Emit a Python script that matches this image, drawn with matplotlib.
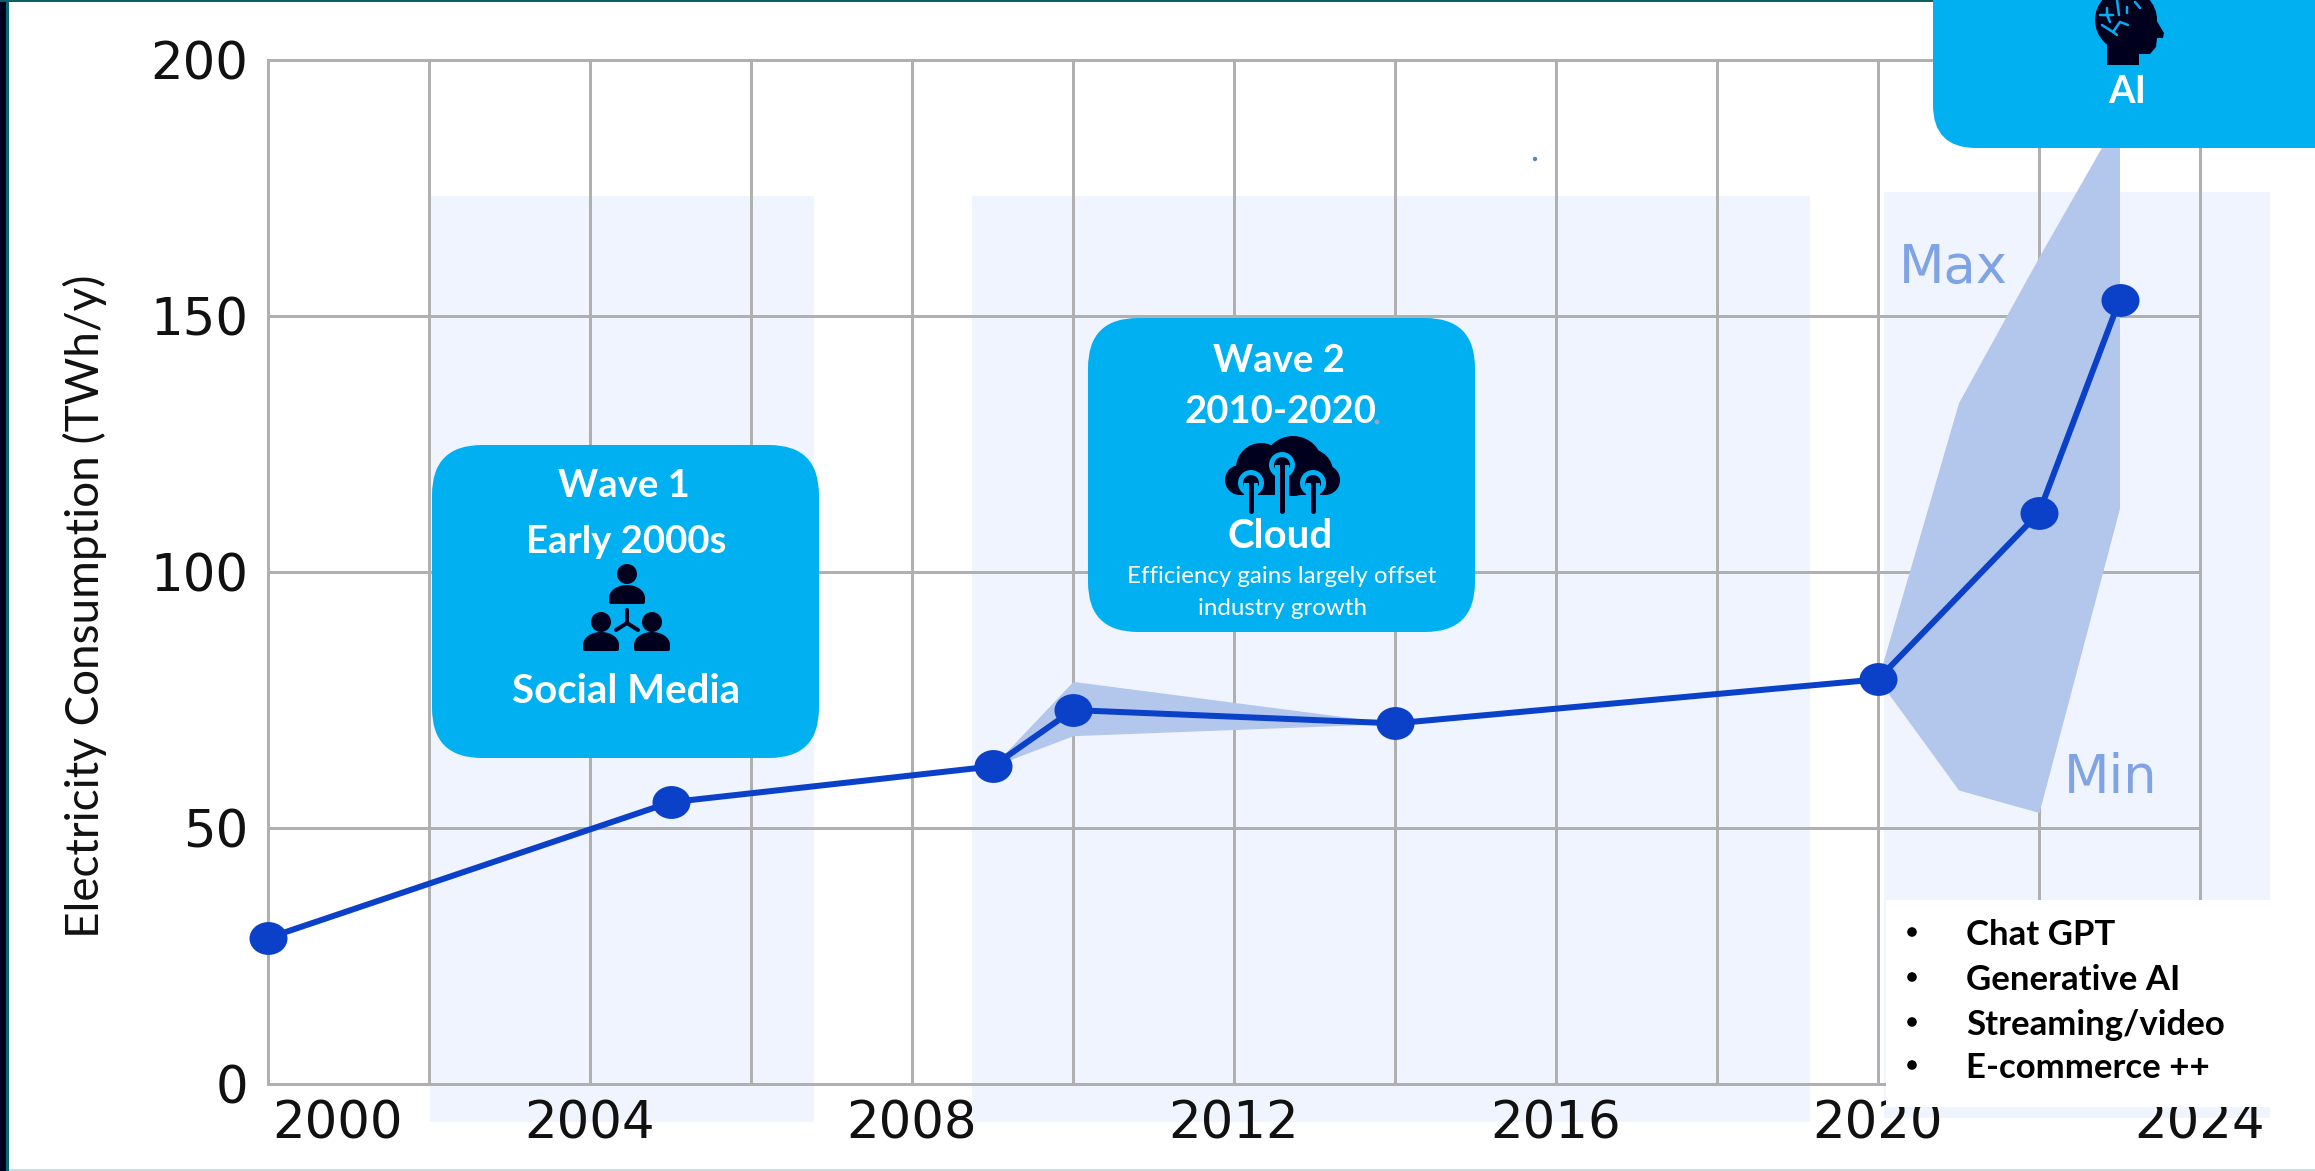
import numpy as np
import matplotlib
matplotlib.use("Agg")
import matplotlib.pyplot as plt
from matplotlib.patches import Circle, FancyBboxPatch, Polygon, Rectangle
from matplotlib.path import Path
from matplotlib.transforms import Affine2D, ScaledTranslation

W, H = 2315, 1171

years = [2000, 2005, 2009, 2010, 2014, 2020, 2022, 2023]
consumption = [28.5, 55, 62, 73, 70.4, 79, 111.5, 153]

cloud_years = [2009, 2010, 2014]
cloud_max = [62, 78.6, 70.4]
cloud_min = [62, 68, 70.4]

ai_years = [2020, 2021, 2022, 2023]
ai_max = [79, 133, 161.5, 189]
ai_min = [79, 57.4, 53, 112.4]

x_major = [2000, 2004, 2008, 2012, 2016, 2020, 2024]
x_minor = [2002, 2006, 2010, 2014, 2018, 2022]
y_ticks = [0, 50, 100, 150, 200]
drivers = ["Chat GPT", "Generative AI", "Streaming/video", "E-commerce ++"]

BLUE = "#00B0F0"
DARK = "#00001E"
LINE = "#0A41C8"
PALE = "#F0F4FE"
BAND = "#B3C6EC"
GRID = "#B0B0B0"
LABEL = "#7FA3E3"
FONT = "Lato"


def px(v):
    return v * 0.72


def overlay(fig, zorder):
    a = fig.add_axes([0, 0, 1, 1], zorder=zorder)
    a.set_xlim(0, W)
    a.set_ylim(H, 0)
    a.axis("off")
    a.patch.set_alpha(0)
    return a


def round_box(a, x0, y0, x1, y1, r):
    a.add_patch(FancyBboxPatch((x0, y0), x1 - x0, y1 - y0,
                               boxstyle=f"round,pad=0,rounding_size={r}",
                               fc=BLUE, ec="none"))


def box_text(a, x, y, s, size=27.5, weight="bold"):
    a.text(x, y, s, ha="center", va="baseline", color="white",
           fontsize=size, fontweight=weight, family=FONT)


def person(a, cx, head_y, base_y):
    a.add_patch(Circle((cx, head_y), 10, fc=DARK, ec="none"))
    t = np.linspace(np.pi, 2 * np.pi, 30)
    xs = cx + 16 * np.cos(t)
    ys = base_y - 6 + 11 * np.sin(t)
    pts = list(zip(xs, ys)) + [(cx + 16, base_y - 2), (cx - 16, base_y - 2)]
    a.add_patch(Polygon(pts, closed=True, fc=DARK, ec=DARK, lw=px(4), joinstyle="round"))


def people_icon(a):
    person(a, 627, 574, 604)
    person(a, 601, 622, 651)
    person(a, 652, 622, 651)
    for end in [(627, 610), (616, 630), (638, 630)]:
        a.plot([627, end[0]], [623, end[1]], color=DARK, lw=px(4), solid_capstyle="round")


def cloud_icon(a):
    for c, r in [((1240, 480), 15), ((1325, 480), 15), ((1261, 468), 25),
                 ((1293, 466), 30), ((1310, 472), 23)]:
        a.add_patch(Circle(c, r, fc=DARK, ec="none"))
    a.add_patch(Rectangle((1240, 468), 85, 27, fc=DARK, ec="none"))
    for cx, cy in [(1251, 483), (1282, 465), (1313, 483)]:
        a.plot([cx, cx], [cy, 496], color=BLUE, lw=px(14), solid_capstyle="butt")
        a.add_patch(Circle((cx, cy), 13, fc=BLUE, ec="none"))
        a.add_patch(Circle((cx, cy), 8, fc=DARK, ec="none"))
        a.plot([cx, cx], [cy, 511], color=DARK, lw=px(5), solid_capstyle="round")


def head_icon(a):
    a.add_patch(Circle((2126, 20), 31, fc=DARK, ec="none"))
    a.add_patch(Polygon([(2107, 40), (2107, 65), (2139, 65), (2139, 54), (2150, 54),
                         (2156, 47), (2157, 38), (2163, 38), (2164, 33), (2155, 18), (2125, 20)],
                        closed=True, fc=DARK, ec="none"))
    circuits = [[(2100, 15), (2113, 15)], [(2107, 8), (2107, 15), (2110, 22)],
                [(2117, 0), (2119, 15)], [(2127, 7), (2127, 13)],
                [(2102, 25), (2113, 32), (2117, 35)], [(2113, 32), (2120, 22), (2128, 25)],
                [(2135, 2), (2140, 8)]]
    for c in circuits:
        xs, ys = zip(*c)
        a.plot(xs, ys, color=BLUE, lw=px(2.5), solid_capstyle="round")


fig = plt.figure(figsize=(W / 100, H / 100), dpi=100, facecolor="white")
bg = overlay(fig, 0)
ax = fig.add_axes([268 / W, 1 - 1084 / H, (2200 - 268) / W, (1084 - 59.5) / H], zorder=1)
fg = overlay(fig, 2)

# wave backgrounds
bg.add_patch(Rectangle((430, 196), 384, 926, fc=PALE, ec="none"))
bg.add_patch(Rectangle((972, 196), 838, 926, fc=PALE, ec="none"))
bg.add_patch(Rectangle((1884, 192), 386, 926, fc=PALE, ec="none"))

# frame
bg.add_patch(Rectangle((0, 0), 6, H, fc="#00001E", ec="none"))
bg.add_patch(Rectangle((6, 0), 3, H, fc="#0B6A70", ec="none"))
bg.add_patch(Rectangle((0, 0), W, 2, fc="#0B5F66", ec="none"))
bg.add_patch(Rectangle((9, H - 2), W, 2, fc="#C4E0E0", ec="none"))

ax.patch.set_alpha(0)
ax.set_xlim(2000, 2024)
ax.set_ylim(0, 200)
for s in ax.spines.values():
    s.set_visible(False)
ax.set_xticks(x_major)
ax.set_xticks(x_minor, minor=True)
ax.set_yticks(y_ticks)
ax.set_xticklabels([str(v) for v in x_major])
ax.grid(True, which="both", color=GRID, lw=px(3), zorder=1)
for t in ax.xaxis.get_major_ticks() + ax.xaxis.get_minor_ticks() + ax.yaxis.get_major_ticks():
    t.gridline.set_clip_on(False)
ax.tick_params(axis="both", which="both", length=0, labelsize=37, labelcolor="#111111")
ax.tick_params(axis="x", pad=11)
ax.tick_params(axis="y", pad=14)
ax.set_axisbelow(True)

# the 2000 label sits to the right of its gridline
first = ax.get_xticklabels()[0]
first.set_transform(first.get_transform() + ScaledTranslation(69 / 100, 0, fig.dpi_scale_trans))

ax.fill_between(cloud_years, cloud_min, cloud_max, color=BAND, lw=0, zorder=2, clip_on=False)
ax.fill_between(ai_years, ai_min, ai_max, color=BAND, lw=0, zorder=2, clip_on=False)

marker = Path.unit_circle().transformed(Affine2D().scale(37, 32))
ax.plot(years, consumption, color=LINE, lw=px(6), marker=marker, markersize=px(38),
        markerfacecolor=LINE, markeredgecolor="none", zorder=3, clip_on=False)

fg.text(85, 606, "Electricity Consumption (TWh/y)", rotation=90, ha="center", va="center",
        fontsize=33, color="#111111", family=FONT)
fg.text(1899, 283, "Max", color=LABEL, fontsize=38, family="DejaVu Sans", va="baseline")
fg.text(2064, 793, "Min", color=LABEL, fontsize=38, family="DejaVu Sans", va="baseline")

# wave 1
round_box(fg, 432, 445, 819, 758, 50)
box_text(fg, 624, 497, "Wave 1")
box_text(fg, 626, 553, "Early 2000s")
box_text(fg, 626, 703, "Social Media", size=29)
people_icon(fg)

# wave 2
round_box(fg, 1088, 318, 1475, 632, 50)
box_text(fg, 1279, 372, "Wave 2")
box_text(fg, 1280, 423, "2010-2020")
box_text(fg, 1280, 548, "Cloud", size=29)
box_text(fg, 1282, 583, "Efficiency gains largely offset", size=17.4, weight="normal")
box_text(fg, 1282, 615, "industry growth", size=17.4, weight="normal")
cloud_icon(fg)

# AI box runs off the top and right of the slide
round_box(fg, 1933, -80, 2395, 148, 43)
box_text(fg, 2127, 103, "AI")
head_icon(fg)

# stray specks from the source slide
fg.add_patch(Circle((1535, 159), 2.2, fc="#5B84C4", ec="none"))
fg.add_patch(Circle((1333, 346), 2.5, fc="#8FA6C8", ec="none"))
fg.add_patch(Circle((1377, 422), 2.5, fc="#8FA6C8", ec="none"))

# driver list
fg.add_patch(Rectangle((1886, 900), 384, 207, fc="white", ec="none"))
for i, name in enumerate(drivers):
    base = [945, 990, 1035, 1078][i]
    fg.add_patch(Circle((1912, base - 13), 4.8, fc="black", ec="none"))
    fg.text(1966, base, name, color="black", fontsize=25, fontweight="bold",
            family=FONT, va="baseline")

fig.savefig("out.png", dpi=100)
